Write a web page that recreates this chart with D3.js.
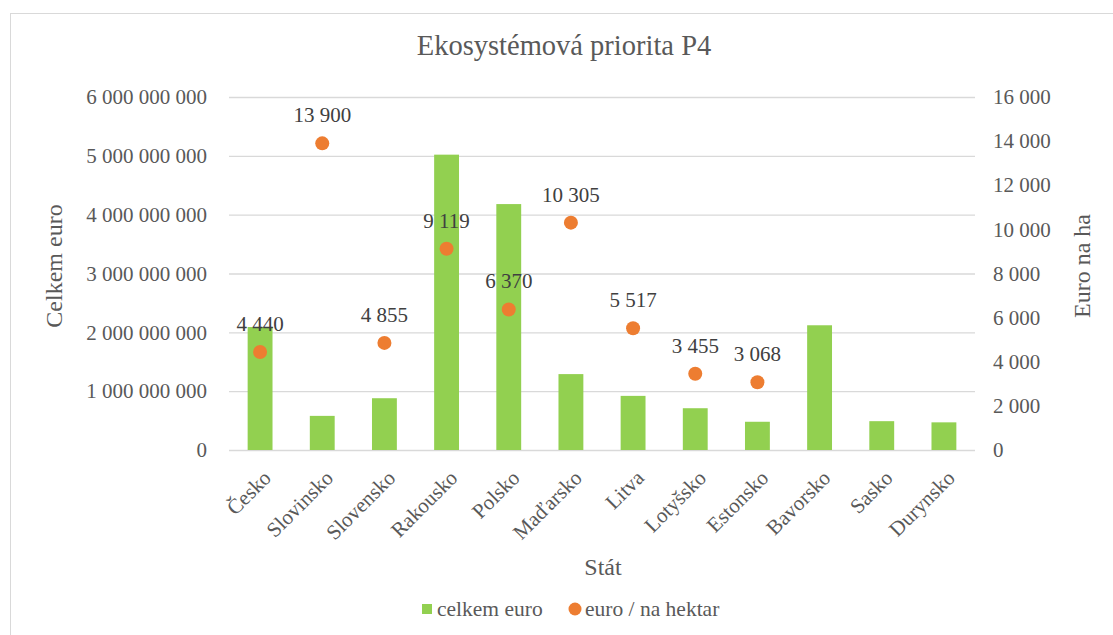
<!DOCTYPE html>
<html>
<head>
<meta charset="utf-8">
<script src="https://cdn.jsdelivr.net/npm/d3@7"></script>
<style>
    body { margin: 0; background: #fff; }
    text { font-family: "Liberation Serif", "Times New Roman", serif; fill: #595959; }
</style>
</head>
<body>
<div id="chart"></div>
<script>
    var states = ["Česko", "Slovinsko", "Slovensko", "Rakousko", "Polsko", "Maďarsko",
        "Litva", "Lotyšsko", "Estonsko", "Bavorsko", "Sasko", "Durynsko"];
    // celkem euro
    var totalEuro = [2090000000, 580000000, 880000000, 5020000000, 4180000000, 1290000000,
        920000000, 710000000, 480000000, 2120000000, 490000000, 470000000];
    // euro / na hektar (null = no point)
    var euroPerHa = [4440, 13900, 4855, 9119, 6370, 10305, 5517, 3455, 3068, null, null, null];
    var leftTicks = [0, 1e9, 2e9, 3e9, 4e9, 5e9, 6e9];
    var rightTicks = [0, 2000, 4000, 6000, 8000, 10000, 12000, 14000, 16000];

    var width = 1113, height = 635;
    var margin = {top: 97, right: 138, bottom: 185, left: 229};
    var plotW = width - margin.left - margin.right,
        plotH = height - margin.top - margin.bottom;

    var fmt = function (v) {
        return d3.format(",")(v).replace(/,/g, " ");
    };

    var styleText = function (sel, size) {
        sel.style("font-size", size)
            .style("font-family", "'Liberation Serif', 'Times New Roman', serif")
            .attr("fill", "#595959");
    };

    var svg = d3.select("#chart").append("svg")
        .attr("width", width)
        .attr("height", height);

    // chart frame
    svg.append("rect")
        .attr("x", 10.5).attr("y", 13.5)
        .attr("width", width + 10).attr("height", height)
        .attr("fill", "#fff")
        .attr("stroke", "#d9d9d9");

    var g = svg.append("g")
        .attr("transform", "translate(" + margin.left + "," + margin.top + ")");

    var x = d3.scaleBand().domain(states).range([0, plotW]).paddingInner(0.6).paddingOuter(0.3);
    var yL = d3.scaleLinear().domain([0, 6e9]).range([plotH, 0]);
    var yR = d3.scaleLinear().domain([0, 16000]).range([plotH, 0]);

    // gridlines
    g.append("g")
        .call(d3.axisLeft(yL).tickValues(leftTicks).tickSize(-plotW).tickFormat(""))
        .call(function (a) {
            a.select(".domain").remove();
            a.selectAll("line").attr("stroke", "#d9d9d9").attr("stroke-width", 1.3);
        });

    // left axis labels
    g.append("g")
        .call(d3.axisLeft(yL).tickValues(leftTicks).tickSize(0).tickPadding(22).tickFormat(fmt))
        .call(function (a) {
            a.select(".domain").remove();
            a.selectAll("text").call(styleText, "21px");
        });

    // right axis labels
    g.append("g")
        .attr("transform", "translate(" + plotW + ",0)")
        .call(d3.axisRight(yR).tickValues(rightTicks).tickSize(0).tickPadding(18).tickFormat(fmt))
        .call(function (a) {
            a.select(".domain").remove();
            a.selectAll("text").call(styleText, "21px");
        });

    // category axis
    g.append("g")
        .attr("transform", "translate(0," + plotH + ")")
        .call(d3.axisBottom(x).tickSize(0).tickPadding(0))
        .call(function (a) {
            a.select(".domain").remove();
            a.selectAll("text")
                .call(styleText, "21px")
                .attr("text-anchor", "end")
                .attr("y", 0)
                .attr("dy", "0.35em")
                .attr("transform", "translate(7,24) rotate(-45)");
        });

    // bars
    g.selectAll("rect.bar")
        .data(states)
        .enter().append("rect")
        .attr("class", "bar")
        .attr("x", function (d) { return x(d); })
        .attr("width", x.bandwidth())
        .attr("y", function (d, i) { return yL(totalEuro[i]); })
        .attr("height", function (d, i) { return plotH - yL(totalEuro[i]); })
        .attr("fill", "#92d050");

    var pts = states.map(function (s, i) { return {s: s, v: euroPerHa[i]}; })
        .filter(function (d) { return d.v != null; });

    g.selectAll("circle.pt")
        .data(pts)
        .enter().append("circle")
        .attr("class", "pt")
        .attr("cx", function (d) { return x(d.s) + x.bandwidth() / 2; })
        .attr("cy", function (d) { return yR(d.v); })
        .attr("r", 7)
        .attr("fill", "#ed7d31");

    g.selectAll("text.lbl")
        .data(pts)
        .enter().append("text")
        .attr("class", "lbl")
        .attr("x", function (d) { return x(d.s) + x.bandwidth() / 2; })
        .attr("y", function (d) { return yR(d.v) - 21; })
        .attr("text-anchor", "middle")
        .style("font-size", "21px")
        .attr("fill", "#404040")
        .style("fill", "#404040")
        .text(function (d) { return fmt(d.v); });

    // title
    svg.append("text")
        .attr("x", 564).attr("y", 55)
        .attr("text-anchor", "middle")
        .style("font-size", "28.5px")
        .text("Ekosystémová priorita P4");

    // axis titles
    svg.append("text")
        .attr("transform", "translate(62,266) rotate(-90)")
        .attr("text-anchor", "middle")
        .style("font-size", "24px")
        .text("Celkem euro");

    svg.append("text")
        .attr("transform", "translate(1090,266) rotate(-90)")
        .attr("text-anchor", "middle")
        .style("font-size", "24px")
        .text("Euro na ha");

    svg.append("text")
        .attr("x", 603).attr("y", 575)
        .attr("text-anchor", "middle")
        .style("font-size", "24px")
        .text("Stát");

    // legend
    var leg = svg.append("g").attr("transform", "translate(422,609)");
    leg.append("rect").attr("x", 0).attr("y", -5).attr("width", 10).attr("height", 10).attr("fill", "#92d050");
    leg.append("text").attr("x", 15).attr("y", 7).style("font-size", "21.5px").text("celkem euro");
    leg.append("circle").attr("cx", 153).attr("cy", 0).attr("r", 6.5).attr("fill", "#ed7d31");
    leg.append("text").attr("x", 163).attr("y", 7).style("font-size", "21.5px").text("euro / na hektar");
</script>
</body>
</html>
